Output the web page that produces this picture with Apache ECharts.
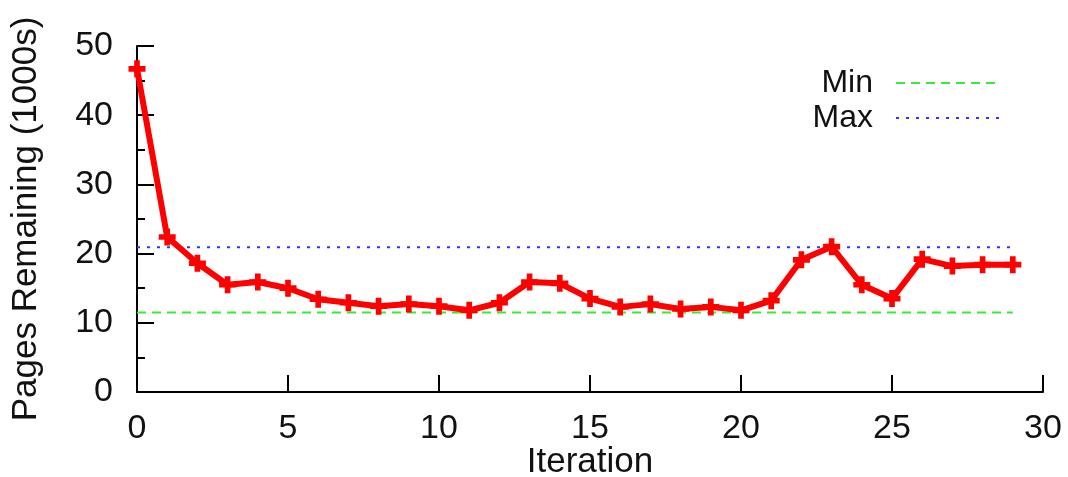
<!DOCTYPE html>
<html>
<head>
<meta charset="utf-8">
<script src="https://cdn.jsdelivr.net/npm/echarts@6/dist/echarts.min.js"></script>
<style>
html,body{margin:0;padding:0;background:#fff;}
#c{width:1068px;height:477px;}
</style>
</head>
<body>
<div id="c"></div>
<script>
const iterations = [0,1,2,3,4,5,6,7,8,9,10,11,12,13,14,15,16,17,18,19,20,21,22,23,24,25,26,27,28,29];
const pages = [46.7,22.4,18.6,15.5,15.9,15.0,13.4,12.9,12.4,12.7,12.4,11.8,12.9,15.9,15.7,13.5,12.3,12.7,12.0,12.3,11.8,13.2,19.1,21.0,15.5,13.5,19.2,18.2,18.4,18.4];
const minValue = 11.5;
const maxValue = 20.9;
const lineRange = [0, 29];
const xTicks = [0,5,10,15,20,25,30];
const yTicks = [0,10,20,30,40,50];

const font = 'Liberation Sans, Arial, sans-serif';
const chart = echarts.init(document.getElementById('c'), null, {renderer:'canvas'});
chart.setOption({
  animation:false,
  backgroundColor:'#fff',
  grid:{left:137,right:25,top:46,bottom:85,outerBoundsMode:'none',containLabel:false},
  legend:{
    data:['Min','Max'],
    orient:'vertical',
    align:'right',
    right:62,
    top:62,
    itemWidth:104,
    itemHeight:12,
    itemGap:3,
    itemStyle:{opacity:0},
    textStyle:{fontFamily:font,fontSize:32,color:'#111',padding:[0,18,0,0]},
    selectedMode:false
  },
  xAxis:{
    type:'value',min:xTicks[0],max:xTicks[xTicks.length-1],interval:5,
    name:'Iteration',nameLocation:'middle',nameGap:53,nameMoveOverlap:false,
    nameTextStyle:{fontFamily:font,fontSize:35,color:'#111'},
    axisLine:{show:true,lineStyle:{color:'#000',width:2}},
    axisTick:{show:true,inside:true,length:17,lineStyle:{color:'#000',width:2}},
    axisLabel:{fontFamily:font,fontSize:34,color:'#111',margin:20},
    splitLine:{show:false}
  },
  yAxis:{
    type:'value',min:yTicks[0],max:yTicks[yTicks.length-1],interval:10,
    name:'Pages Remaining (1000s)',nameLocation:'middle',nameGap:93,nameMoveOverlap:false,
    nameTextStyle:{fontFamily:font,fontSize:35,color:'#111'},
    axisLine:{show:true,lineStyle:{color:'#000',width:2}},
    axisTick:{show:true,inside:true,length:17,lineStyle:{color:'#000',width:2}},
    minorTick:{show:true,splitNumber:2,length:8,lineStyle:{color:'#000',width:2}},
    axisLabel:{fontFamily:font,fontSize:34,color:'#111',margin:24},
    splitLine:{show:false}
  },
  series:[
    {
      name:'Min',type:'line',symbol:'none',
      data:lineRange.map(x=>[x,minValue]),
      lineStyle:{color:'#33ee33',width:2,type:[9,6]},
      itemStyle:{color:'#33ee33'},
      z:2
    },
    {
      name:'Max',type:'line',symbol:'none',
      data:lineRange.map(x=>[x,maxValue]),
      lineStyle:{color:'#3333ff',width:2,type:[3,7]},
      itemStyle:{color:'#3333ff'},
      z:2
    },
    {
      name:'Pages',type:'line',
      data:iterations.map((x,i)=>[x,pages[i]]),
      symbol:'path://M4,0h4v4h4v4h-4v4h-4v-4h-4v-4h4z',
      symbolSize:17,
      lineStyle:{color:'#ff0000',width:6},
      itemStyle:{color:'#ff0000'},
      z:3
    }
  ]
});
</script>
</body>
</html>
